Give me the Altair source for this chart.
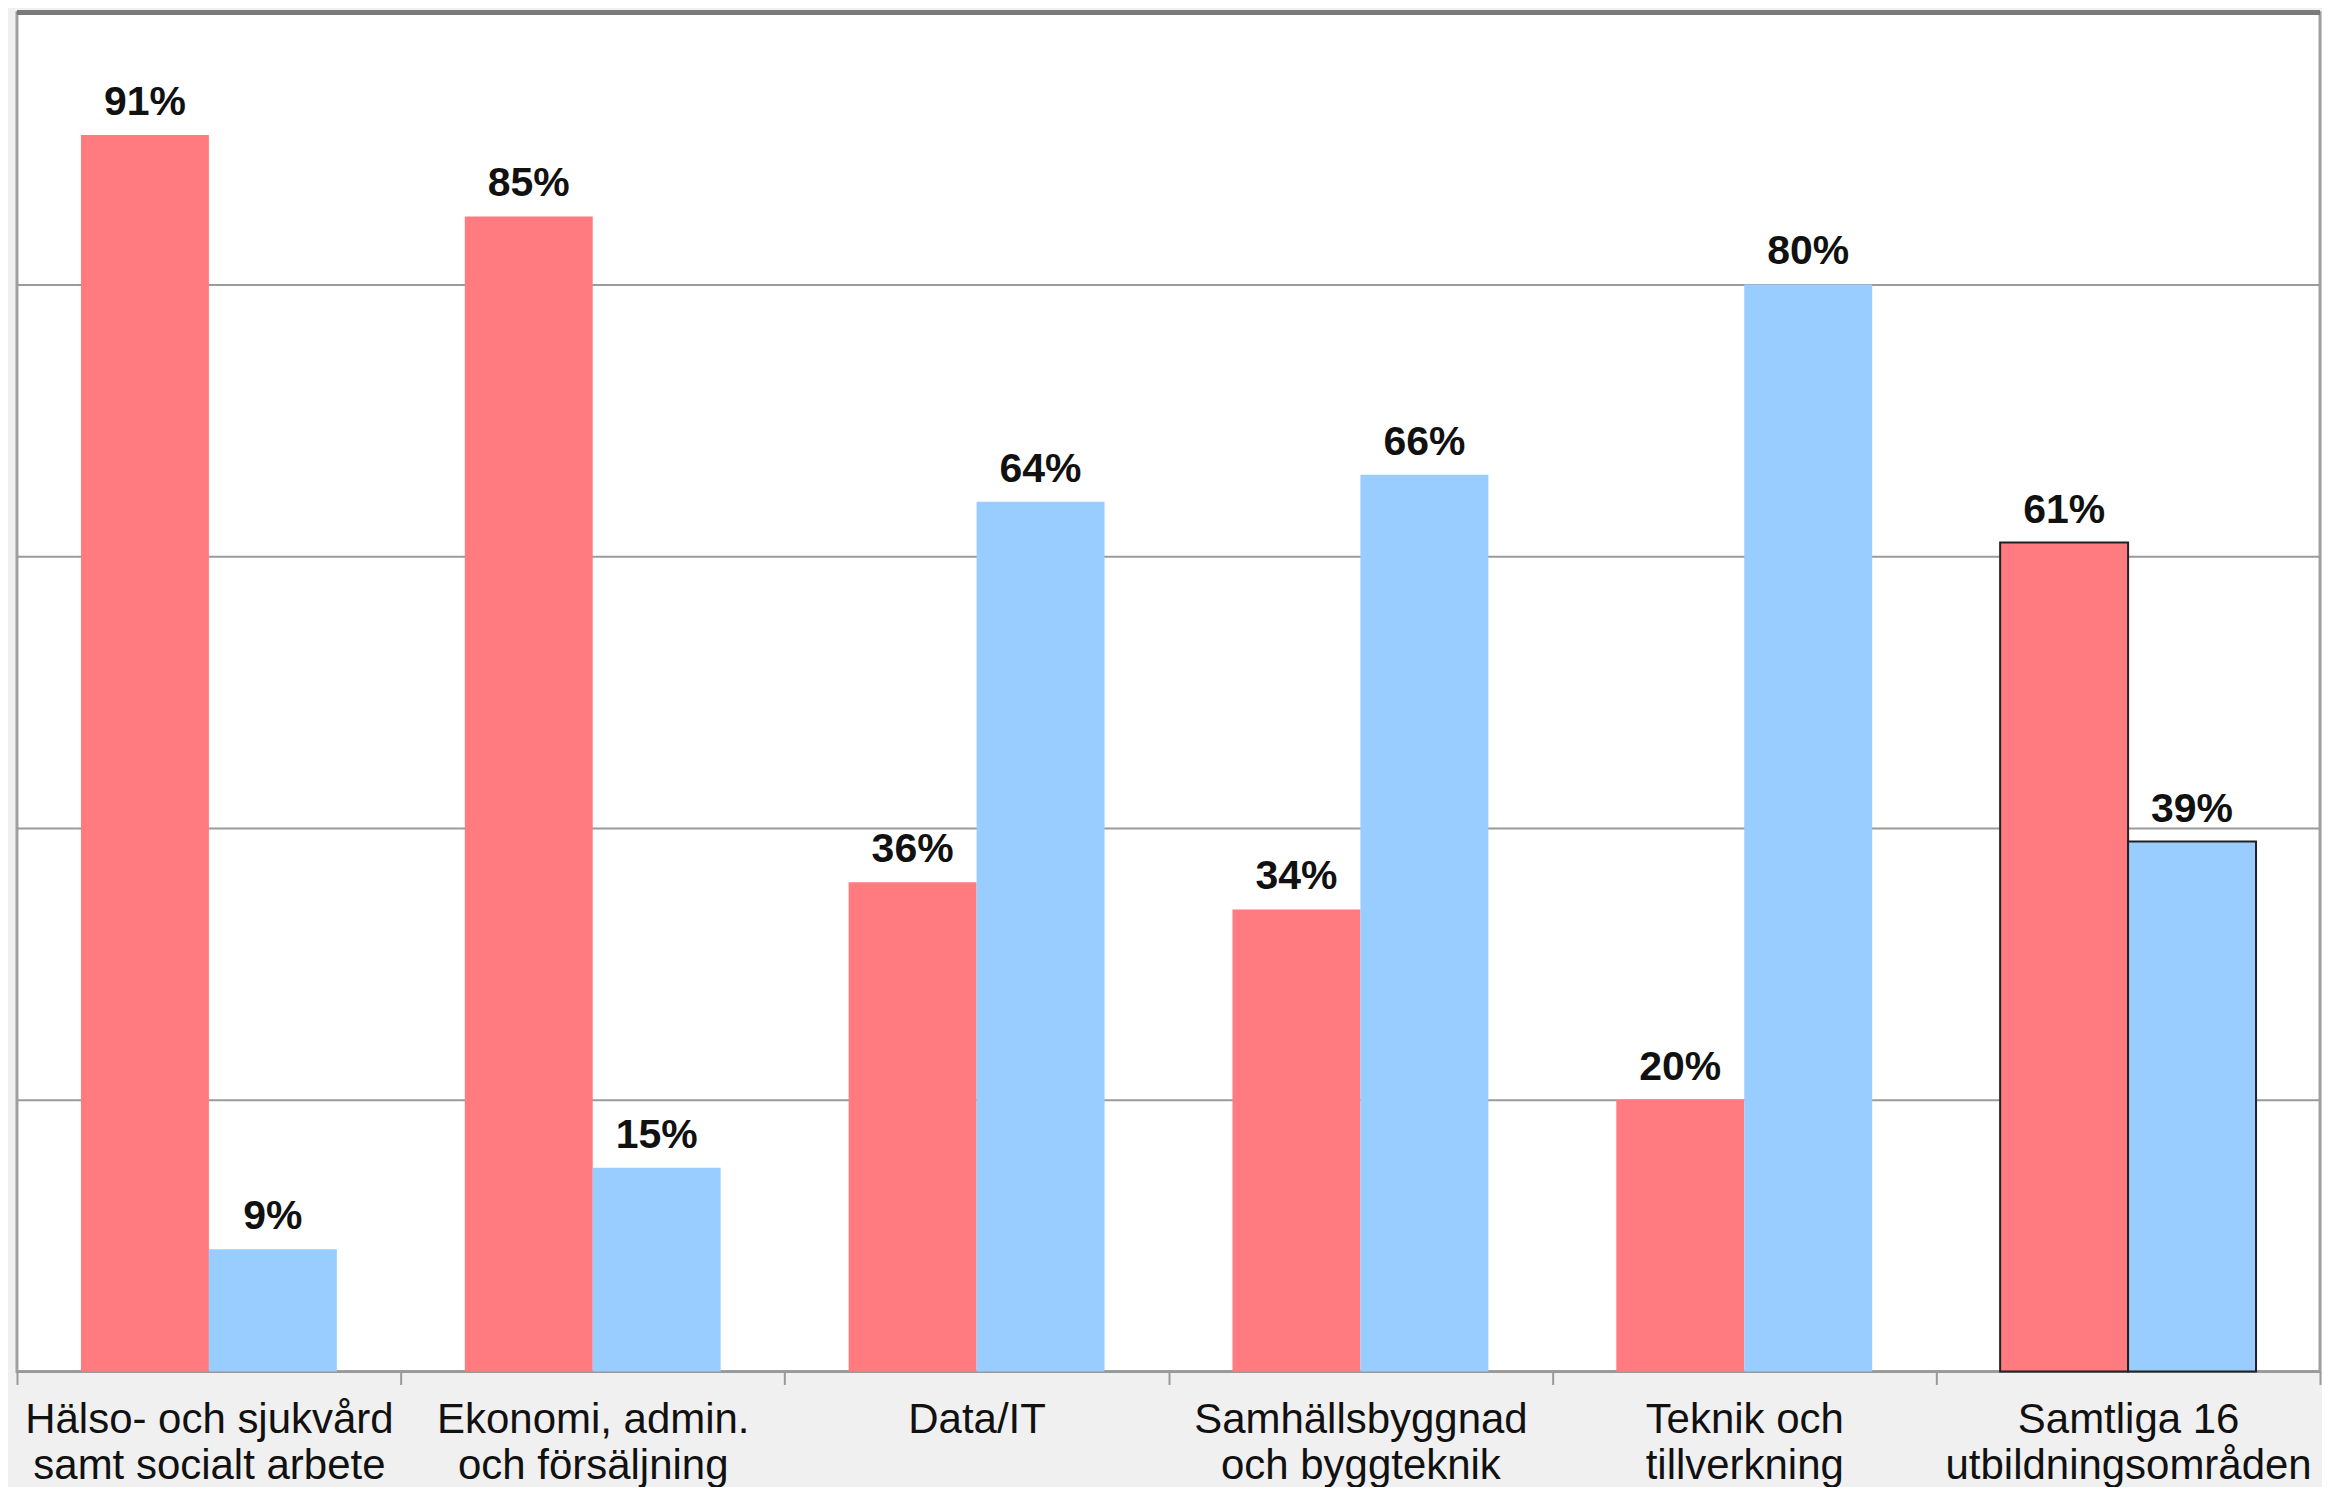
import altair as alt
import pandas as pd

categories = [
    "Hälso- och sjukvård\nsamt socialt arbete",
    "Ekonomi, admin.\noch försäljning",
    "Data/IT",
    "Samhällsbyggnad\noch byggteknik",
    "Teknik och\ntillverkning",
    "Samtliga 16\nutbildningsområden",
]
series = ["Kvinnor", "Män"]
kvinnor = [91, 85, 36, 34, 20, 61]
man = [9, 15, 64, 66, 80, 39]
outlined = [False, False, False, False, False, True]

rows = []
for i, c in enumerate(categories):
    rows.append({"category": c, "gender": series[0], "value": kvinnor[i], "outlined": outlined[i]})
    rows.append({"category": c, "gender": series[1], "value": man[i], "outlined": outlined[i]})
df = pd.DataFrame(rows)
df["label"] = df["value"].astype(str) + "%"

FONT = "Liberation Sans"

x = alt.X(
    "category:N",
    sort=categories,
    scale=alt.Scale(paddingInner=0, paddingOuter=0),
    axis=alt.Axis(
        title=None,
        labelAngle=0,
        tickBand="extent",
        labelExpr="split(datum.label, '\\n')",
        labelFont=FONT,
        labelFontSize=42,
        labelLineHeight=46,
        labelLimit=0,
        labelColor="#111111",
        labelPadding=15,
        tickSize=13,
        tickColor="#999999",
        tickWidth=2,
        domainColor="#999999",
        domainWidth=2,
        grid=False,
    ),
)
xo = alt.XOffset("gender:N", sort=series, scale=alt.Scale(paddingInner=0, paddingOuter=0.5))
y = alt.Y(
    "value:Q",
    scale=alt.Scale(domain=[0, 100], nice=False),
    axis=alt.Axis(
        title=None,
        labels=False,
        ticks=False,
        domain=False,
        values=[20, 40, 60, 80],
        grid=True,
        gridColor="#9a9a9a",
        gridWidth=2,
    ),
)

bars = alt.Chart(df).mark_bar().encode(
    x=x,
    xOffset=xo,
    y=y,
    color=alt.Color(
        "gender:N",
        scale=alt.Scale(domain=series, range=["#FF7B80", "#99CCFF"]),
        legend=None,
    ),
    stroke=alt.condition("datum.outlined", alt.value("#222222"), alt.value(None)),
    strokeWidth=alt.condition("datum.outlined", alt.value(2), alt.value(0)),
)

texts = alt.Chart(df).mark_text(
    font=FONT, fontSize=41, fontWeight="bold", color="#111111",
    baseline="alphabetic", align="center", dy=-20,
).encode(x=x, xOffset=xo, y=y, text="label:N")

top = alt.Chart(df).mark_rule(color="#7a7a7a", strokeWidth=4).encode(y=alt.datum(100))

chart = alt.layer(bars, texts, top).properties(
    width=2305,
    height=1360,
    padding={"left": 7, "top": 2, "right": 0, "bottom": 0},
    background="#f0f0f0",
).configure_view(
    fill="white", stroke="#a0a0a0", strokeWidth=3
)

chart.save("out.html", embed_options={"renderer": "svg", "actions": False})
